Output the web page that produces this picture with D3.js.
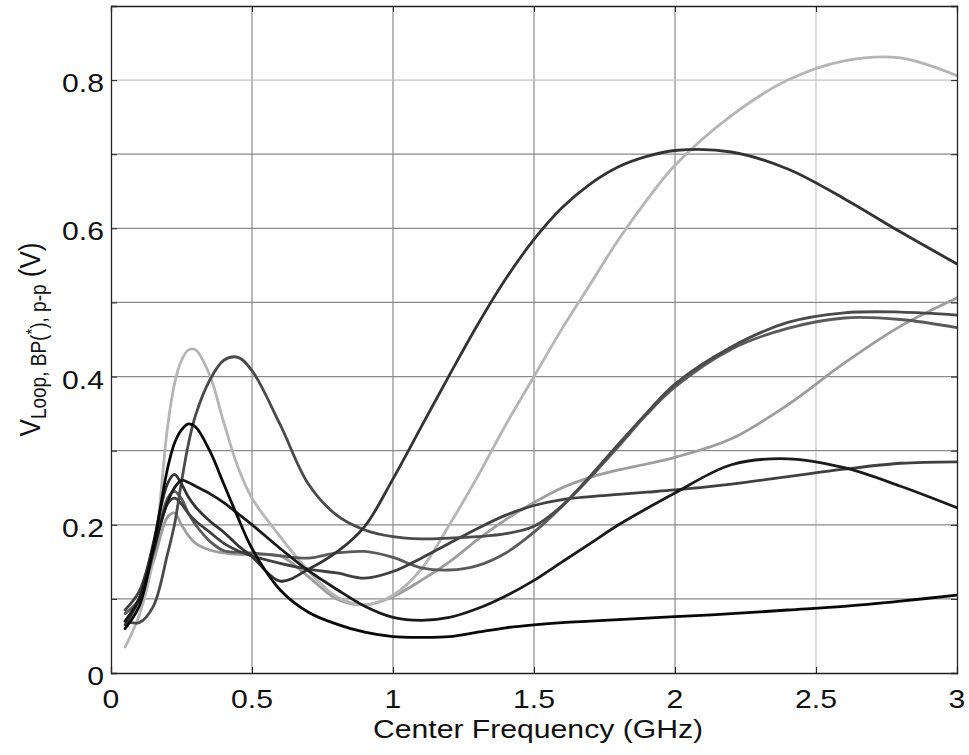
<!DOCTYPE html>
<html><head><meta charset="utf-8">
<script src="https://cdn.jsdelivr.net/npm/d3@7"></script>
<style>
html,body{margin:0;padding:0;background:#fff;}
svg{display:block;}
text{font-family:"Liberation Sans",Arial,sans-serif;fill:#111;}
</style></head>
<body>
<svg id="chart" width="969" height="755"></svg>
<script>
// ---- data ----
const freqGHz = [0.05,0.1,0.15,0.2,0.225,0.25,0.275,0.3,0.35,0.4,0.45,0.5,0.6,0.7,0.8,0.9,1.0,1.1,1.2,1.3,1.4,1.5,1.6,1.7,1.8,1.9,2.0,2.2,2.4,2.6,2.8,3.0];
const seriesA = [0.035,0.078,0.155,0.33,0.39,0.422,0.436,0.436,0.402,0.338,0.278,0.236,0.184,0.138,0.103,0.092,0.105,0.14,0.2,0.265,0.335,0.4,0.465,0.525,0.585,0.638,0.685,0.752,0.8,0.826,0.83,0.806];
const seriesB = [0.07,0.068,0.09,0.16,0.2,0.258,0.31,0.348,0.395,0.422,0.426,0.408,0.335,0.255,0.213,0.193,0.184,0.181,0.182,0.184,0.188,0.198,0.226,0.266,0.309,0.351,0.39,0.44,0.473,0.486,0.487,0.483];
const seriesC = [0.065,0.1,0.175,0.255,0.268,0.255,0.237,0.224,0.205,0.19,0.172,0.157,0.124,0.14,0.163,0.198,0.262,0.332,0.402,0.47,0.532,0.585,0.628,0.66,0.683,0.697,0.705,0.703,0.68,0.64,0.595,0.552];
const seriesD = [0.06,0.09,0.17,0.275,0.31,0.328,0.336,0.332,0.3,0.255,0.21,0.168,0.112,0.082,0.066,0.055,0.049,0.048,0.049,0.055,0.061,0.065,0.068,0.07,0.072,0.074,0.076,0.08,0.085,0.09,0.097,0.105];
const seriesE = [0.08,0.1,0.16,0.235,0.245,0.235,0.215,0.2,0.178,0.165,0.163,0.162,0.158,0.155,0.162,0.164,0.156,0.142,0.139,0.145,0.162,0.19,0.225,0.264,0.306,0.349,0.386,0.437,0.465,0.479,0.477,0.466];
const seriesH = [0.085,0.11,0.17,0.228,0.236,0.228,0.215,0.205,0.19,0.175,0.165,0.158,0.148,0.14,0.135,0.128,0.137,0.155,0.175,0.195,0.213,0.226,0.234,0.238,0.241,0.244,0.247,0.255,0.265,0.275,0.283,0.285];
const seriesI = [0.07,0.1,0.165,0.23,0.25,0.26,0.257,0.252,0.242,0.23,0.215,0.2,0.168,0.138,0.113,0.09,0.075,0.071,0.075,0.087,0.104,0.125,0.15,0.175,0.2,0.222,0.243,0.281,0.289,0.277,0.252,0.223];
const seriesG = [0.07,0.1,0.15,0.21,0.216,0.2,0.185,0.175,0.166,0.162,0.16,0.16,0.158,0.13,0.1,0.092,0.103,0.125,0.15,0.18,0.207,0.23,0.25,0.264,0.274,0.282,0.291,0.316,0.362,0.418,0.468,0.506];
const xTicks = [0,0.5,1,1.5,2,2.5,3];
const xTickLabels = ["0","0.5","1","1.5","2","2.5","3"];
const yTicks = [0,0.2,0.4,0.6,0.8];
const yTickLabels = ["0","0.2","0.4","0.6","0.8"];
const yGrid = [0.1,0.2,0.3,0.4,0.5,0.6,0.7,0.8];
const xTitle = "Center Frequency (GHz)";

// ---- styling ----
const seriesList = [
  {v: seriesG, color: "#9d9d9d"},
  {v: seriesA, color: "#b5b5b5"},
  {v: seriesE, color: "#5a5a5a"},
  {v: seriesH, color: "#404040"},
  {v: seriesB, color: "#4a4a4a"},
  {v: seriesC, color: "#333333"},
  {v: seriesI, color: "#1a1a1a"},
  {v: seriesD, color: "#080808"}
];
const W = 969, H = 755;
const m = {left: 111, top: 6, right: 12, bottom: 82};
const sx = 1.16;

const svg = d3.select("#chart");
const x = d3.scaleLinear().domain([0,3]).range([m.left, W - m.right]);
const y = d3.scaleLinear().domain([0,0.9]).range([H - m.bottom, m.top]);

// grid
const grid = svg.append("g");
grid.selectAll("line.gx").data(xTicks.filter(d => d > 0 && d < 3)).join("line")
  .attr("x1", d => x(d)).attr("x2", d => x(d))
  .attr("y1", y(0)).attr("y2", y(0.9))
  .attr("stroke", d => d === 2.5 ? "#c4c4c4" : "#8a8a8a").attr("stroke-width", 1.2);
grid.selectAll("line.gy").data(yGrid).join("line")
  .attr("x1", x(0)).attr("x2", x(3))
  .attr("y1", d => y(d)).attr("y2", d => y(d))
  .attr("stroke", d => d === 0.8 ? "#c4c4c4" : "#8a8a8a").attr("stroke-width", 1.2);

// curves
svg.append("clipPath").attr("id","clip").append("rect")
  .attr("x", x(0)).attr("y", y(0.9)).attr("width", x(3)-x(0)).attr("height", y(0)-y(0.9));
const line = d3.line().x((d,i) => x(freqGHz[i])).y(d => y(d)).curve(d3.curveCatmullRom.alpha(0.5));
svg.append("g").attr("clip-path","url(#clip)")
  .selectAll("path").data(seriesList).join("path")
  .attr("d", s => line(s.v))
  .attr("fill","none").attr("stroke", s => s.color)
  .attr("stroke-width", 2.8).attr("stroke-linejoin","round").attr("stroke-linecap","round");

// axes (inward ticks, box)
const axB = d3.axisBottom(x).tickValues(xTicks).tickSize(-6).tickFormat("");
const axT = d3.axisTop(x).tickValues(xTicks).tickSize(-6).tickFormat("");
const axL = d3.axisLeft(y).tickValues(yGrid.concat([0])).tickSize(-6).tickFormat("");
const axR = d3.axisRight(y).tickValues(yGrid.concat([0])).tickSize(-6).tickFormat("");
[[axB, `translate(0,${y(0)})`],[axT, `translate(0,${y(0.9)})`],[axL, `translate(${x(0)},0)`],[axR, `translate(${x(3)},0)`]]
  .forEach(([ax,tr]) => {
    const g = svg.append("g").attr("transform", tr).call(ax);
    g.select(".domain").attr("stroke","#222").attr("stroke-width",1.3);
    g.selectAll(".tick line").attr("stroke","#222");
  });

// tick labels
svg.append("g").selectAll("text").data(xTicks).join("text")
  .attr("transform", d => `translate(${x(d)},${y(0)+35}) scale(${sx},1)`)
  .attr("text-anchor","middle").attr("font-size", 26)
  .text((d,i) => xTickLabels[i]);
svg.append("g").selectAll("text").data(yTicks).join("text")
  .attr("transform", d => `translate(${x(0)-7},${y(d)+12}) scale(${sx},1)`)
  .attr("text-anchor","end").attr("font-size", 26)
  .text((d,i) => yTickLabels[i]);

// axis titles
svg.append("text")
  .attr("transform", `translate(${(x(0)+x(3))/2 + 4},${H-17}) scale(${sx},1)`)
  .attr("text-anchor","middle").attr("font-size", 26).text(xTitle);

const yt = svg.append("text")
  .attr("transform", `translate(40,${y(0.45)}) scale(${sx},1) rotate(-90)`)
  .attr("text-anchor","middle").attr("font-size", 26);
yt.append("tspan").text("V");
yt.append("tspan").attr("font-size", 19).attr("dy", 5).text("Loop, BP(");
yt.append("tspan").attr("font-size", 15).attr("dy", -7).text("*");
yt.append("tspan").attr("font-size", 19).attr("dy", 7).text("), p-p");
yt.append("tspan").attr("dy", -5).text(" (V)");
</script>
</body></html>
